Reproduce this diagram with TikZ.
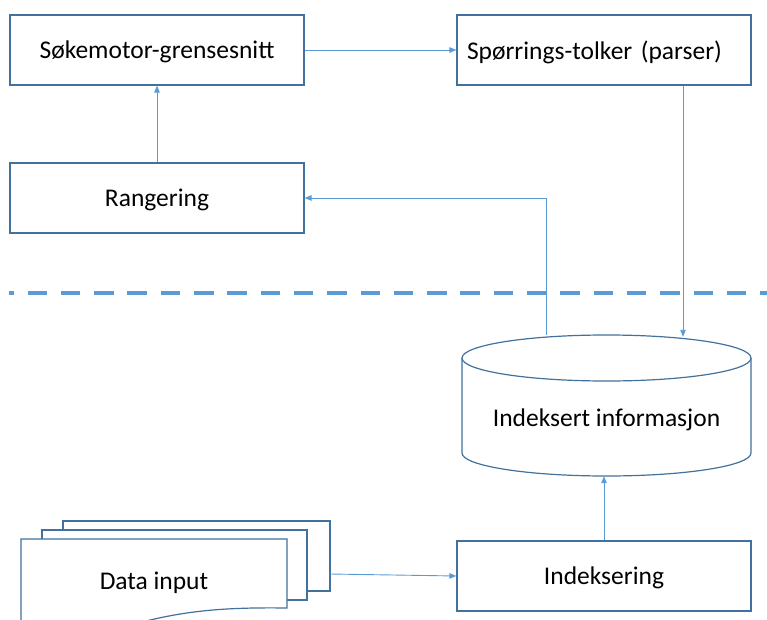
\documentclass[tikz,border=0pt]{standalone}
\usepackage{fontspec}
\setmainfont{Carlito}
\usetikzlibrary{arrows.meta}
\definecolor{boxc}{HTML}{41719C}
\definecolor{linec}{HTML}{5B9BD5}
\begin{document}
\begin{tikzpicture}[x=1pt,y=-1pt,
  lbl/.style={font=\fontsize{25.5}{30}\selectfont, text=black, text depth=0pt},
  box/.style={draw=boxc, line width=1.2pt, fill=white, minimum width=294pt, minimum height=70pt, inner sep=0pt, lbl},
  shapeln/.style={draw=boxc, line width=1.2pt, fill=white},
  conn/.style={draw=linec, line width=0.9pt, -{Triangle[length=7pt,width=5.5pt]}},
  sep/.style={draw=linec, line width=4pt, dash pattern=on 19.5pt off 13.8pt, dash phase=14.8pt}]
\useasboundingbox (0,0) rectangle (767,620);

% top boxes
\node[box] (sok) at (157,50) {Søkemotor-grensesnitt};
\node[box] (rang) at (157,198) {Rangering};
\node[box, text width=274pt, inner xsep=10pt, align=left] (spor) at (604,50) {Spørrings-tolker (parser)};

% separator
\draw[sep] (9,292.5) -- (767,292.5);

% cylinder
\node[minimum width=289pt, minimum height=141pt, inner sep=0pt] (db) at (606.5,405.5) {};
\draw[shapeln] (462,358) -- (462,453) arc[start angle=180,end angle=360,x radius=144.5pt,y radius=23pt] -- (751,358);
\draw[shapeln] (606.5,358) ellipse[x radius=144.5pt,y radius=23pt];
\node[lbl] (dbtext) at (606.5,418) {Indeksert informasjon};

% indexing box
\node[box] (idx) at (604,576) {Indeksering};

% data input (multi document)
\draw[shapeln] (63,521) rectangle (330,591);
\draw[shapeln] (42,530) rectangle (307,600);
\draw[shapeln] (21,660) -- (21,539) -- (287,539) -- (287,608)
  .. controls (215,607) and (175,612) .. (120,628) -- (60,660) -- cycle;
\node[lbl] (din) at (154,581) {Data input};
\coordinate (dinout) at (330,574);

% connectors
\draw[conn] (rang.north) -- (sok.south);
\draw[conn] (sok.east) -- (spor.west);
\draw[conn] ([xshift=79pt]spor.south) -- ([xshift=79pt,yshift=-2pt]spor.south |- db.north);
\draw[conn] ([xshift=-60.5pt]db.north) |- (rang.east);
\draw[conn] (idx.north) -- (idx.north |- db.south);
\draw[conn] (dinout) -- (idx.west);
\end{tikzpicture}
\end{document}
